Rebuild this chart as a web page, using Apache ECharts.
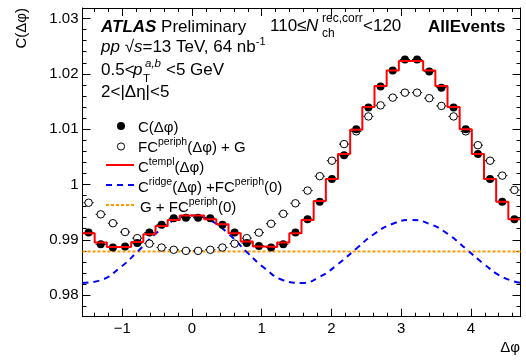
<!DOCTYPE html>
<html><head><meta charset="utf-8">
<script src="https://cdn.jsdelivr.net/npm/echarts@6/dist/echarts.min.js"></script>
<style>html,body{margin:0;padding:0;background:#fff}#c{width:526px;height:360px}</style>
</head><body><div id="c"></div>
<script>
// ---------------- data ----------------
const NBINS = 36;
const X_MIN = -Math.PI / 2, X_MAX = 3 * Math.PI / 2;
const Y_MIN = 0.9761, Y_MAX = 1.0319;

// C(dphi) - filled points
const cData = [0.9913, 0.9892, 0.9886, 0.9888, 0.9894, 0.9913, 0.9927, 0.9939, 0.9940,
  0.9940, 0.9939, 0.9927, 0.9913, 0.9894, 0.9889, 0.9886, 0.9892, 0.9913,
  0.9937, 0.9969, 1.0010, 1.0053, 1.0100, 1.0139, 1.0177, 1.0206, 1.0226,
  1.0226, 1.0204, 1.0175, 1.0139, 1.0100, 1.0055, 1.0010, 0.9969, 0.9937];
// F C^periph(dphi) + G - open points
const periphData = [0.9967, 0.9946, 0.9930, 0.9914, 0.9903, 0.9893, 0.9886, 0.9882, 0.9880,
  0.9880, 0.9882, 0.9886, 0.9893, 0.9903, 0.9913, 0.9929, 0.9947, 0.9966,
  0.9989, 1.0015, 1.0043, 1.0073, 1.0096, 1.0123, 1.0143, 1.0157, 1.0166,
  1.0166, 1.0156, 1.0142, 1.0123, 1.0096, 1.0071, 1.0043, 1.0016, 0.9990];
// C^templ(dphi) - red histogram
const templData = [0.9912, 0.9895, 0.9887, 0.9887, 0.9896, 0.9910, 0.9925, 0.9936, 0.9944,
  0.9944, 0.9937, 0.9928, 0.9912, 0.9897, 0.9888, 0.9887, 0.9895, 0.9912,
  0.9936, 0.9970, 1.0010, 1.0055, 1.0099, 1.0140, 1.0178, 1.0206, 1.0223,
  1.0223, 1.0206, 1.0178, 1.0140, 1.0100, 1.0055, 1.0010, 0.9969, 0.9937];
// C^ridge(dphi) + F C^periph(0) - blue dashed, read every pi/12 from -pi/2
const ridgeData = [0.9822, 0.9827, 0.9848, 0.9878, 0.9911, 0.9935, 0.9944, 0.9935, 0.9911,
  0.9878, 0.9848, 0.9827, 0.9822, 0.9833, 0.9856, 0.9884, 0.9911, 0.9929, 0.9936,
  0.9929, 0.9911, 0.9884, 0.9856, 0.9833, 0.9822];
// G + F C^periph(0) - orange dotted
const gPlusF = 0.9879;

const xTickLabels = [-1, 0, 1, 2, 3, 4];
const yTickValues = [0.98, 0.99, 1.00, 1.01, 1.02, 1.03];
const yTickLabels = ['0.98', '0.99', '1', '1.01', '1.02', '1.03'];

// ---------------- derived ----------------
const binW = (X_MAX - X_MIN) / NBINS;
const centers = cData.map((_, k) => X_MIN + (k + 0.5) * binW);
const edges = Array.from({length: NBINS + 1}, (_, k) => X_MIN + k * binW);
const ridgeX = ridgeData.map((_, j) => X_MIN + j * Math.PI / 12);

const xMinor = [];
for (let i = -8; i <= 23; i++) { const v = Math.round(i * 0.2 * 10) / 10; if (Math.abs(v - Math.round(v)) > 1e-6 && v > X_MIN && v < X_MAX) xMinor.push(v); }
const yMinor = [];
for (let i = 488; i <= 516; i++) { const v = Math.round(i * 2) / 1000; if (i % 5 !== 0 && v > Y_MIN && v < Y_MAX) yMinor.push(v); }

const FONT = '"Liberation Sans", Arial, Helvetica, sans-serif';
const chart = echarts.init(document.getElementById('c'), null, {renderer: 'canvas'});

function axisX(pos, major, labels) {
  return {
    type: 'value', position: pos, min: X_MIN, max: X_MAX,
    axisLine: {show: major, onZero: false, lineStyle: {color: '#000', width: 1}},
    axisTick: {show: true, inside: true, length: major ? 8 : 4, customValues: major ? xTickLabels : xMinor, lineStyle: {color: '#000'}},
    axisLabel: {show: labels, customValues: xTickLabels, fontSize: 15, fontFamily: FONT, color: '#000', margin: 5,
      formatter: v => (v < 0 ? '\u2212' + (-v) : '' + v)},
    splitLine: {show: false}
  };
}
function axisY(pos, major, labels) {
  return {
    type: 'value', position: pos, min: Y_MIN, max: Y_MAX,
    axisLine: {show: major, onZero: false, lineStyle: {color: '#000', width: 1}},
    axisTick: {show: true, inside: true, length: major ? 8 : 4, customValues: major ? yTickValues : yMinor, lineStyle: {color: '#000'}},
    axisLabel: {show: labels, customValues: yTickValues, fontSize: 15, fontFamily: FONT, color: '#000', margin: 4,
      formatter: v => { const i = yTickValues.findIndex(t => Math.abs(t - v) < 1e-7); return i >= 0 ? yTickLabels[i] : ''; }},
    splitLine: {show: false}
  };
}

function errSeries(vals, z) {
  return {
    type: 'custom', xAxisIndex: 0, yAxisIndex: 0, z: z, silent: true, animation: false,
    data: vals.map((v, k) => [centers[k], v]),
    encode: {x: 0, y: 1},
    renderItem: function (params, api) {
      const x = api.value(0), y = api.value(1);
      const p1 = api.coord([x - binW * 0.42, y]), p2 = api.coord([x + binW * 0.42, y]);
      return {type: 'line', shape: {x1: p1[0], y1: p1[1], x2: p2[0], y2: p2[1]}, style: {stroke: '#000', lineWidth: 1}};
    }
  };
}

// text helpers
function T(x, y, text, size, opts) {
  opts = opts || {};
  return {type: 'text', x: x, y: y, rotation: opts.rot || 0, z: 100,
    style: {text: text, fill: '#000', font: (opts.style || '') + ' ' + (opts.weight || 'normal') + ' ' + size + 'px ' + FONT,
      align: opts.align || 'left', verticalAlign: 'middle', textAlign: opts.align || 'left', textVerticalAlign: 'middle',
      rich: opts.rich}};
}
const RL = {
  n: {fontSize: 15, fontFamily: FONT, lineHeight: 18, verticalAlign: 'bottom', color: '#000'},
  s: {fontSize: 10.5, fontFamily: FONT, lineHeight: 9, verticalAlign: 'top', color: '#000'}
};
const RH = {
  n: {fontSize: 17, fontFamily: FONT, lineHeight: 20, verticalAlign: 'bottom', color: '#000'},
  i: {fontSize: 17, fontFamily: FONT, fontStyle: 'italic', lineHeight: 20, verticalAlign: 'bottom', color: '#000'},
  b: {fontSize: 17, fontFamily: FONT, fontStyle: 'italic', fontWeight: 'bold', lineHeight: 20, verticalAlign: 'bottom', color: '#000'},
  s: {fontSize: 11, fontFamily: FONT, lineHeight: 10, verticalAlign: 'top', color: '#000'}
};

const graphics = [
  T(101, 26, '{b|ATLAS} {n|Preliminary}', 17, {rich: RH}),
  T(101, 46, '{i|pp} {n|\u221A}{i|s}{n|=13 TeV, 64 nb}{s|-1}', 17, {rich: RH}),
  T(101, 70.5, '0.5<', 17),
  T(133, 70.5, 'p', 17, {style: 'italic'}),
  T(145, 64, 'a,b', 11.5, {style: 'italic'}),
  T(143, 78.5, 'T', 11.5),
  T(166, 70.5, '<5 GeV', 17),
  T(101, 92.5, '2<|\u0394\u03B7|<5', 17),
  T(270, 26.5, '110\u2264', 17),
  T(306, 26.5, 'N', 17, {style: 'italic'}),
  T(322, 19, 'rec,corr', 12),
  T(322, 34, 'ch', 12),
  T(363, 26.5, '<120', 17),
  T(428, 27, 'AllEvents', 17, {weight: 'bold'}),
  // legend
  {type: 'circle', shape: {cx: 121, cy: 126, r: 4}, style: {fill: '#000'}, z: 100},
  T(138, 126, '{n|C(\u0394\u03C6)}', 15, {rich: RL}),
  {type: 'circle', shape: {cx: 121, cy: 146.5, r: 3.6}, style: {fill: '#fff', stroke: '#000', lineWidth: 1}, z: 100},
  T(138, 146, '{n|FC}{s|periph}{n|(\u0394\u03C6) + G}', 15, {rich: RL}),
  {type: 'line', shape: {x1: 106, y1: 165, x2: 134, y2: 165}, style: {stroke: '#ff0000', lineWidth: 2}, z: 100},
  T(138, 166, '{n|C}{s|templ}{n|(\u0394\u03C6)}', 15, {rich: RL}),
  {type: 'line', shape: {x1: 106, y1: 185, x2: 135, y2: 185}, style: {stroke: '#0000ff', lineWidth: 2, lineDash: [6, 5]}, z: 100},
  T(138, 186, '{n|C}{s|ridge}{n|(\u0394\u03C6) +FC}{s|periph}{n|(0)}', 15, {rich: RL}),
  {type: 'line', shape: {x1: 106, y1: 205, x2: 135, y2: 205}, style: {stroke: '#ff9900', lineWidth: 2, lineDash: [3, 2]}, z: 100},
  T(140, 206, '{n|G + FC}{s|periph}{n|(0)}', 15, {rich: RL}),
  // axis titles
  T(22, 8, 'C(\u0394\u03C6)', 15, {rot: Math.PI / 2, align: 'right'}),
  T(520, 348, '\u0394\u03C6', 15, {align: 'right'})
];

const option = {
  backgroundColor: '#fff',
  animation: false,
  grid: {left: 82.5, right: 5.5, top: 8, bottom: 43.3, containLabel: false},
  xAxis: [axisX('bottom', true, true), axisX('bottom', false, false), axisX('top', true, false), axisX('top', false, false)],
  yAxis: [axisY('left', true, true), axisY('left', false, false), axisY('right', true, false), axisY('right', false, false)],
  series: [
    {type: 'line', name: 'G+FC(0)', xAxisIndex: 0, yAxisIndex: 0, z: 2, symbol: 'none', silent: true,
      data: [[X_MIN, gPlusF], [X_MAX, gPlusF]], lineStyle: {color: '#ff9900', width: 2, type: [3, 2]}},
    {type: 'line', name: 'ridge', xAxisIndex: 0, yAxisIndex: 0, z: 3, symbol: 'none', smooth: true, silent: true,
      data: ridgeData.map((v, j) => [ridgeX[j], v]), lineStyle: {color: '#0000ff', width: 2, type: [6, 5]}},
    errSeries(periphData, 4),
    {type: 'scatter', name: 'periph', xAxisIndex: 0, yAxisIndex: 0, z: 5, symbol: 'circle', symbolSize: 7.5, silent: true,
      data: periphData.map((v, k) => [centers[k], v]), itemStyle: {color: '#fff', borderColor: '#000', borderWidth: 1, opacity: 1}},
    errSeries(cData, 6),
    {type: 'scatter', name: 'C', xAxisIndex: 0, yAxisIndex: 0, z: 7, symbol: 'circle', symbolSize: 8, silent: true,
      data: cData.map((v, k) => [centers[k], v]), itemStyle: {color: '#000', opacity: 1}},
    {type: 'line', name: 'templ', xAxisIndex: 0, yAxisIndex: 0, z: 8, symbol: 'none', step: 'end', silent: true,
      data: templData.map((v, k) => [edges[k], v]).concat([[X_MAX, templData[NBINS - 1]]]),
      lineStyle: {color: '#ff0000', width: 2}}
  ],
  graphic: graphics
};
chart.setOption(option);
</script>
</body></html>
